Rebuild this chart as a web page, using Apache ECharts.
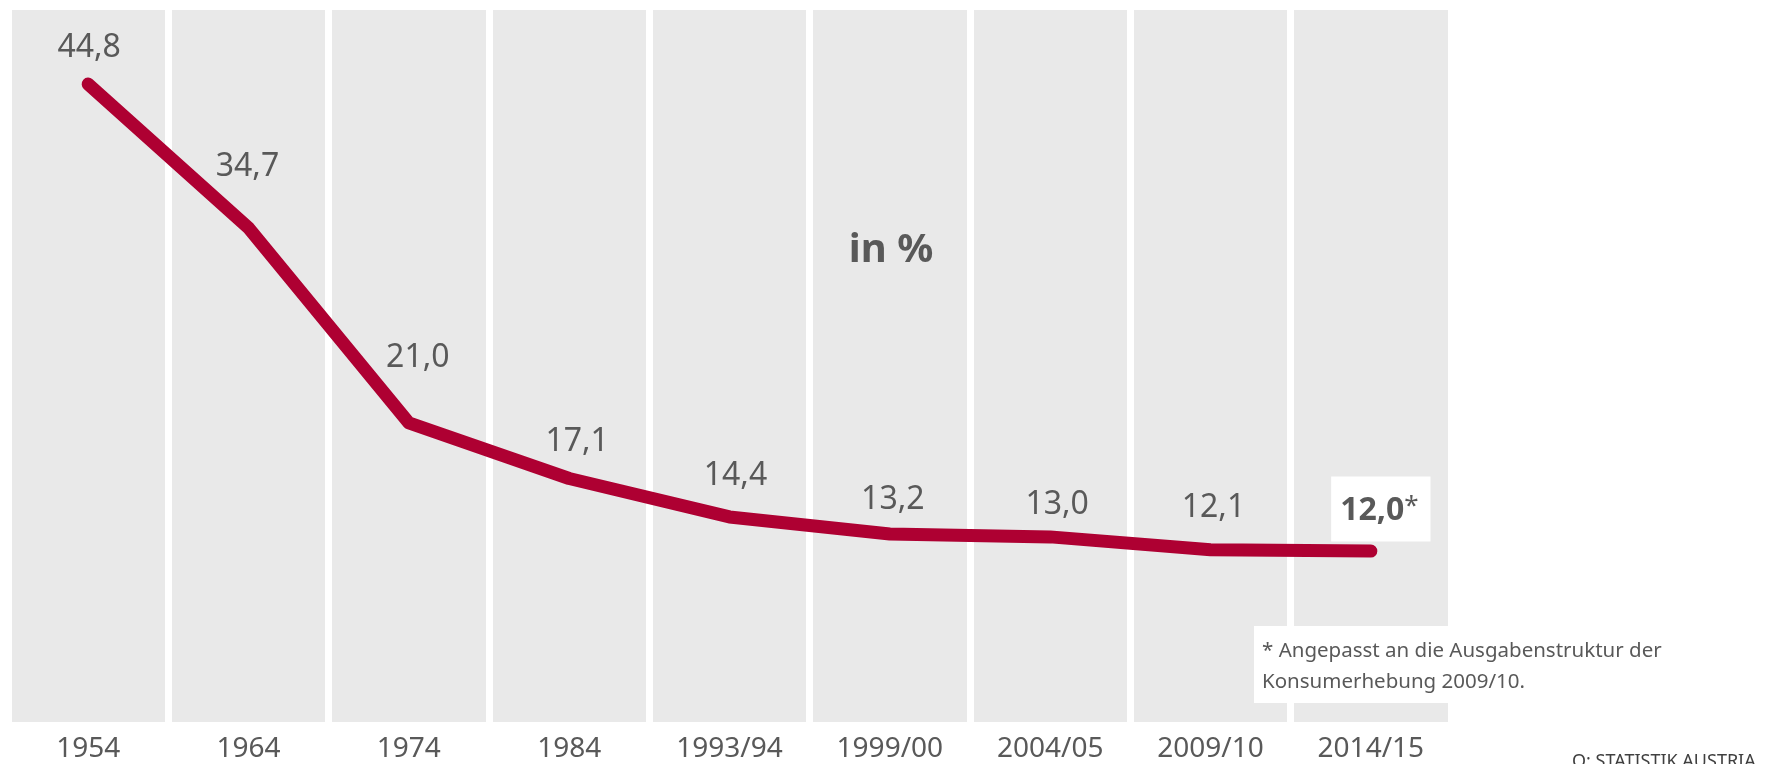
<!DOCTYPE html>
<html>
<head>
<meta charset="utf-8">
<title>Anteil in %</title>
<script src="https://cdn.jsdelivr.net/npm/echarts@6/dist/echarts.min.js"></script>
<style>
  html, body { margin: 0; padding: 0; background: #fff; }
  #chart { width: 1785px; height: 764px; }
</style>
</head>
<body>
<div id="chart"></div>
<script>
// Kategorien (Erhebungsjahre)
var years = ['1954', '1964', '1974', '1984', '1993/94', '1999/00', '2004/05', '2009/10', '2014/15'];
// Anteil in %
var shares = [44.8, 34.7, 21.0, 17.1, 14.4, 13.2, 13.0, 12.1, 12.0];
var yTicks = [0, 50];

var textColor = '#595959';
var fontName = '"Noto Sans", "Open Sans", sans-serif';

// Label-Versatz je Punkt (dx, dy) wie im Original
var labelShift = [[1, -36], [-1, -61], [9, -65], [8, -37], [6, -41], [3, -34], [7, -32], [3, -42], [10, -42]];

function fmt(v) {
  return v.toFixed(1).replace('.', ',');
}

var lastIdx = shares.length - 1;
var seriesData = shares.map(function (v, i) {
  var item = {
    value: v,
    label: { offset: labelShift[i] }
  };
  if (i === lastIdx) {
    item.label = {
      offset: labelShift[i],
      formatter: '{b|' + fmt(v) + '}{n|*}',
      backgroundColor: '#fff',
      padding: [17, 12, 14, 9],
      rich: {
        b: { fontSize: 32, fontWeight: 'bold', color: textColor, fontFamily: fontName },
        n: { fontSize: 26, color: textColor, fontFamily: fontName, verticalAlign: 'top', padding: [0, 0, 8, 0] }
      }
    };
  }
  return item;
});

var chart = echarts.init(document.getElementById('chart'));
chart.setOption({
  animation: false,
  grid: { left: 8, right: 334, top: 10, bottom: 42 },
  xAxis: {
    type: 'category',
    data: years,
    boundaryGap: true,
    axisLine: { show: false },
    axisTick: { show: false },
    axisLabel: {
      interval: 0,
      color: textColor,
      fontSize: 28,
      fontFamily: fontName,
      margin: 13
    },
    splitArea: {
      show: true,
      interval: 0,
      areaStyle: { color: ['#e9e9e9', '#e9e9e9'] }
    },
    splitLine: {
      show: true,
      interval: 0,
      lineStyle: { color: '#fff', width: 7 }
    }
  },
  yAxis: {
    type: 'value',
    min: yTicks[0],
    max: yTicks[1],
    show: false,
    splitLine: { show: false }
  },
  series: [
    {
      type: 'line',
      data: seriesData,
      symbol: 'circle',
      symbolSize: 2,
      itemStyle: { color: '#ae0032' },
      lineStyle: { color: '#ae0032', width: 13, cap: 'round', join: 'round' },
      label: {
        show: true,
        position: 'inside',
        align: 'center',
        verticalAlign: 'middle',
        color: textColor,
        fontSize: 32,
        fontFamily: fontName,
        formatter: function (p) { return fmt(p.value); }
      },
      z: 3
    }
  ],
  graphic: [
    {
      type: 'text',
      x: 891,
      y: 251,
      z: 100,
      style: {
        text: 'in %',
        fill: textColor,
        font: 'bold 40px ' + fontName,
        align: 'center',
        verticalAlign: 'middle'
      }
    },
    {
      type: 'rect',
      shape: { x: 1254, y: 626, width: 440, height: 77 },
      style: { fill: '#fff' },
      z: 100
    },
    {
      type: 'text',
      x: 1262,
      y: 636,
      z: 101,
      style: {
        text: '* Angepasst an die Ausgabenstruktur der\nKonsumerhebung 2009/10.',
        fill: textColor,
        font: '20.5px ' + fontName,
        lineHeight: 31
      }
    },
    {
      type: 'text',
      x: 1572,
      y: 753,
      z: 101,
      style: {
        text: 'Q: STATISTIK AUSTRIA',
        fill: '#404040',
        font: '18px ' + fontName
      }
    }
  ]
});
</script>
</body>
</html>
